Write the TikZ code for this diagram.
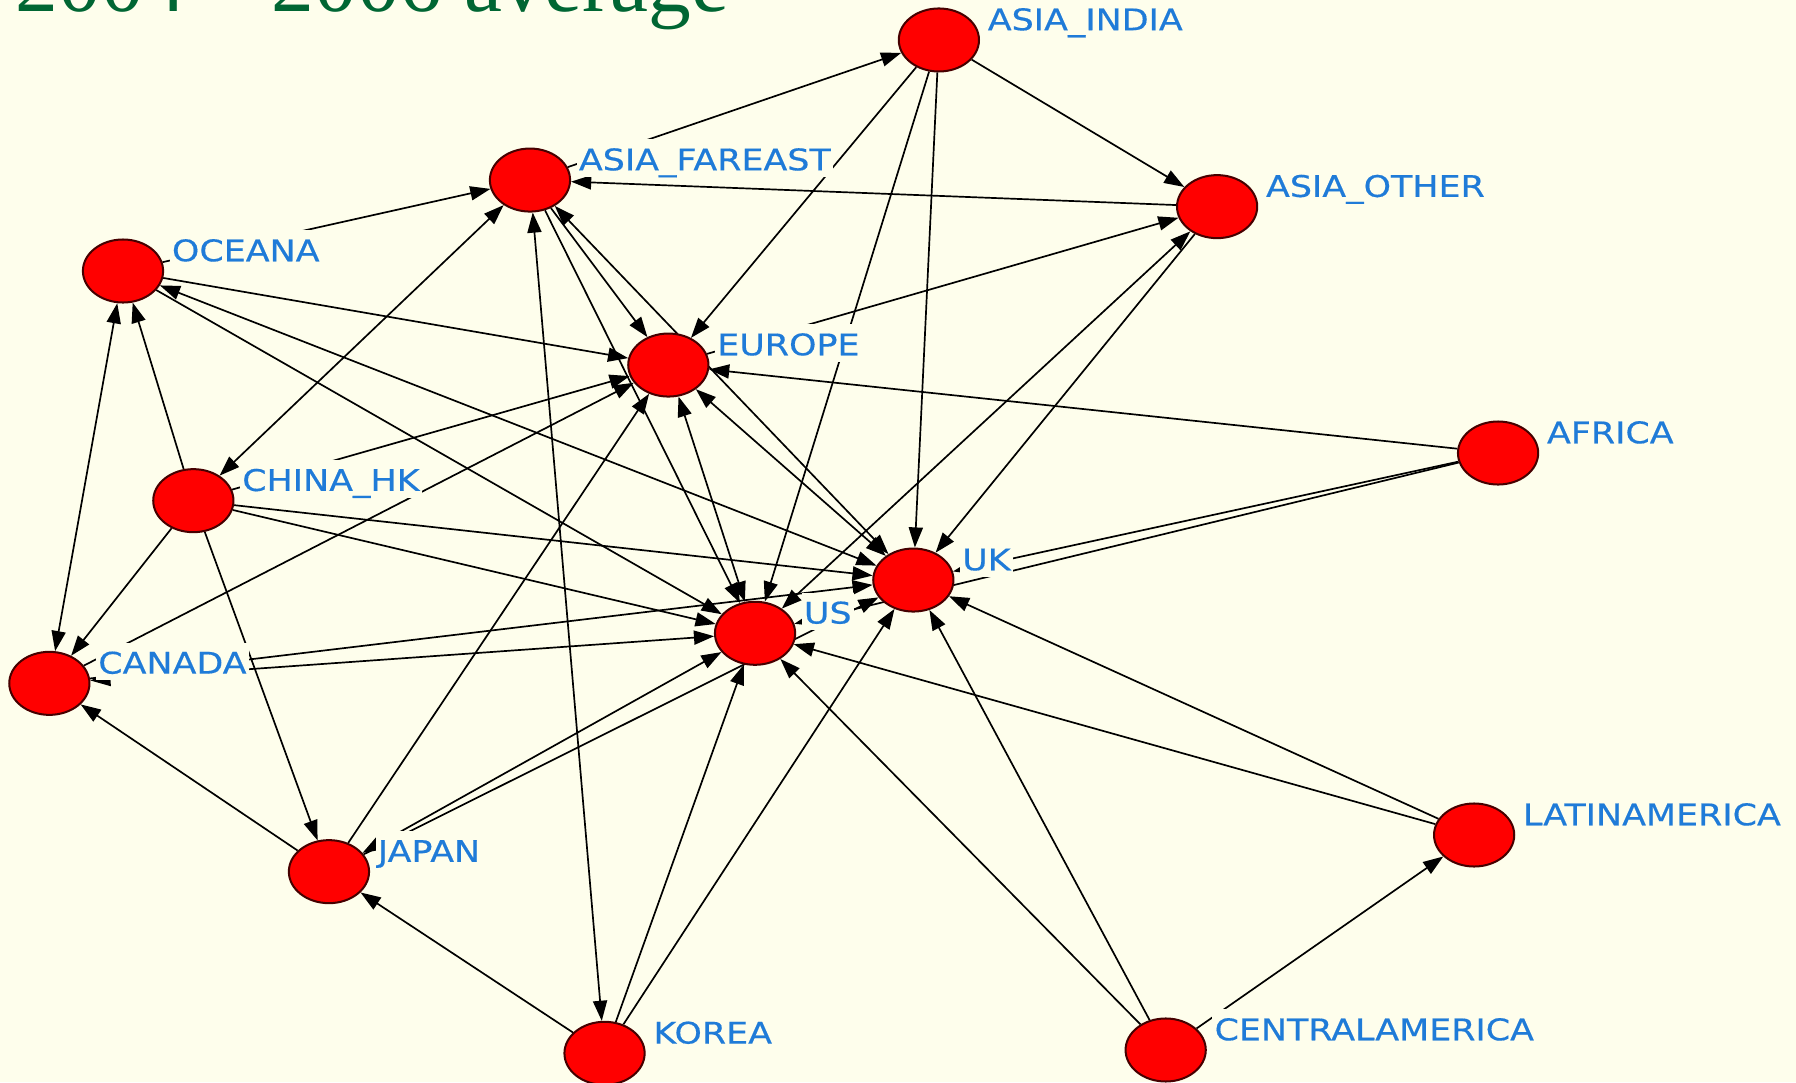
\documentclass[tikz,border=0pt]{standalone}
\usepackage{fontspec}
\usetikzlibrary{shapes.geometric,arrows.meta}
\newfontfamily\lblfont[FakeStretch=1.17,FakeBold=0.45]{DejaVu Sans}
\newfontfamily\ttlfont{Liberation Serif}
\definecolor{bgcol}{RGB}{254,254,236}
\definecolor{lblblue}{RGB}{31,123,216}
\definecolor{ttlgreen}{RGB}{0,102,51}
\definecolor{nodeout}{RGB}{70,0,0}
\pgfdeclarelayer{bglayer}
\pgfdeclarelayer{edgelayer}
\pgfsetlayers{bglayer,edgelayer,main}
\tikzset{
  >={Triangle[length=5pt,width=3.5pt]},
  region/.style={ellipse, minimum width=0.7cm, minimum height=0.55cm, inner sep=0pt,
    fill=red, draw=nodeout, line width=0.5pt},
  tag/.style={anchor=base west, font=\lblfont\fontsize{7.4}{8}\selectfont, text=lblblue,
    fill=bgcol, inner xsep=0.57pt, inner ysep=0.5pt, text height=7.2pt, text depth=1.2pt},
  edge/.style={->, line width=0.42pt, black},
  both/.style={<->, line width=0.42pt, black}
}
\begin{document}
\begin{tikzpicture}[x=0.01cm, y=-0.01cm]
\useasboundingbox (0,0) rectangle (1568,945);
\clip (0,0) rectangle (1568,945);
\begin{pgfonlayer}{bglayer}
  \fill[bgcol] (0,0) rectangle (1568,945);
\end{pgfonlayer}

% title line, cut by the top edge
\node[anchor=base west, inner sep=0pt, text=ttlgreen, font=\ttlfont\fontsize{21.2}{25}\selectfont]
  (title) at (13,10) {2004 – 2006 average};

% regions
\node[region] (AI)  at (819.7,34.9)  {};
\node[region] (AF)  at (462.7,157.2) {};
\node[region] (AO)  at (1062.6,180.4) {};
\node[region] (OC)  at (107.4,236.6) {};
\node[region] (EU)  at (583.5,318.7) {};
\node[region] (AFR) at (1307.9,395.5) {};
\node[region] (CH)  at (168.8,437.1) {};
\node[region] (UK)  at (797.4,506.4) {};
\node[region] (US)  at (659.2,552.9) {};
\node[region] (CA)  at (43.1,596.6)  {};
\node[region] (LA)  at (1287,729)    {};
\node[region] (JP)  at (287.2,761)   {};
\node[region] (KR)  at (527.8,919.6) {};
\node[region] (CE)  at (1017.7,916.7) {};

% ties
\begin{pgfonlayer}{edgelayer}
\draw[edge] (AF) -- (AI);
\draw[edge] (AI) -- (AO);
\draw[edge] (AI) -- (EU);
\draw[edge] (AI) -- (US);
\draw[edge] (AI) -- (UK);
\draw[edge] (AO) -- (AF);
\draw[edge] (EU) -- (AO);
\draw[edge] (AO) -- (UK);
\draw[both] (AO) -- (US);
\draw[edge] (OC) -- (AF);
\draw[edge] (OC) -- (EU);
\draw[both] (OC) -- (UK);
\draw[edge] (OC) -- (US);
\draw[edge] (CH) -- (OC);
\draw[both] (OC) -- (CA);
\draw[both] (AF) -- (CH);
\draw[edge] (CH) -- (EU);
\draw[edge] (CA) -- (EU);
\draw[edge] (CH) -- (UK);
\draw[edge] (CH) -- (US);
\draw[edge] (CH) -- (CA);
\draw[edge] (CH) -- (JP);
\draw[edge] (CA) -- (UK);
\draw[both] (CA) -- (US);
\draw[edge] (JP) -- (CA);
\draw[edge] (JP) -- (EU);
\draw[both] (JP) -- (US);
\draw[edge] (JP) -- (UK);
\draw[edge] (KR) -- (JP);
\draw[both] (AF) -- (KR);
\draw[edge] (KR) -- (US);
\draw[edge] (KR) -- (UK);
\draw[edge] (CE) -- (US);
\draw[edge] (CE) -- (UK);
\draw[edge] (CE) -- (LA);
\draw[edge] (LA) -- (US);
\draw[edge] (LA) -- (UK);
\draw[edge] (AFR) -- (EU);
\draw[edge] (AFR) -- (UK);
\draw[edge] (AFR) -- (US);
\draw[edge] (AF) -- (EU);
\draw[both] (AF) -- (UK);
\draw[edge] (AF) -- (US);
\draw[both] (EU) -- (US);
\draw[both] (EU) -- (UK);
\end{pgfonlayer}

% labels, opaque so that ties pass behind them
\node[tag] (lAI)  at (859.7,26.4)   {ASIA\_INDIA};
\node[tag] (lAF)  at (502.7,148.7)  {ASIA\_FAREAST};
\node[tag] (lAO)  at (1102.6,171.9) {ASIA\_OTHER};
\node[tag] (lOC)  at (147.4,228.1)  {OCEANA};
\node[tag] (lEU)  at (623.5,310.2)  {EUROPE};
\node[tag] (lAFR) at (1347.9,387)   {AFRICA};
\node[tag] (lCH)  at (208.8,428.6)  {CHINA\_HK};
\node[tag] (lUK)  at (837.4,497.9)  {UK};
\node[tag] (lUS)  at (699.2,544.4)  {US};
\node[tag] (lCA)  at (83.1,588.1)   {CANADA};
\node[tag] (lLA)  at (1327,720.5)   {LATINAMERICA};
\node[tag] (lJP)  at (327.2,752.5)  {JAPAN};
\node[tag] (lKR)  at (567.8,911.1)  {KOREA};
\node[tag] (lCE)  at (1057.7,908.2) {CENTRALAMERICA};
\end{tikzpicture}
\end{document}
